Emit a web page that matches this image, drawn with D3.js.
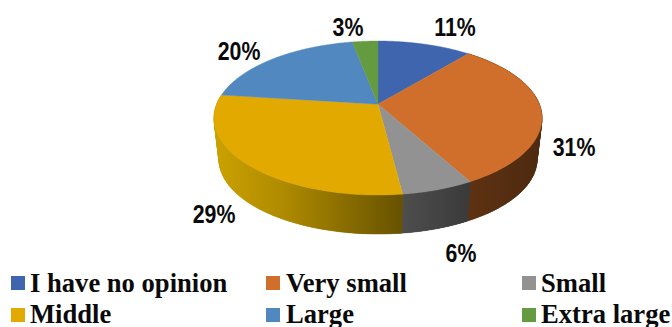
<!DOCTYPE html>
<html><head><meta charset="utf-8">
<script src="https://cdn.jsdelivr.net/npm/d3@7"></script>
<style>html,body{margin:0;padding:0;background:#fff}svg{display:block}</style>
</head><body><svg id="c" width="672" height="327"></svg>
<script>
const categories = ["I have no opinion","Very small","Small","Middle","Large","Extra large"];
const values = [11,31,6,29,20,3];
const colors = ["#3e65ae","#d06e2b","#929292","#e2a900","#5088bf","#649b40"];

const svg = d3.select("#c");
const defs = svg.append("defs");
const K = 0.18;                     // perspective strength
const topE = {cx:378, cy:118, rx:164, ry:77};
const botE = {cx:378, cy:159.5, rx:159, ry:74.5};
const project = (phi, e) => {
  const s = Math.sin(phi), c = Math.cos(phi), w = 1 + K*c;
  return [e.cx + e.rx*s*Math.sqrt(1-K*K)/w, e.cy - e.ry*(c+K)/w];
};
const apex = [topE.cx, topE.cy - topE.ry*K];
const pie = d3.pie().sort(null).value(d=>d)(values);
const samples = a => d3.range(0,97).map(i => a.startAngle + (a.endAngle-a.startAngle)*i/96);
const line = d3.line();

const sideFill = [
  null,
  {x1:468,x2:538,stops:["#5e3212","#4e2a10"]},
  {x1:402,x2:470,stops:["#4e4e4e","#3a3a3a"]},
  {x1:219,x2:402,stops:["#c9a000","#b08c00","#8c6f00","#675200"]},
  null,null
];
sideFill.forEach((g,i)=>{
  if(!g) return;
  const lg = defs.append("linearGradient").attr("id","side"+i).attr("gradientUnits","userSpaceOnUse")
    .attr("x1",g.x1).attr("x2",g.x2).attr("y1",0).attr("y2",0);
  g.stops.forEach((c,j)=>lg.append("stop").attr("offset",j/(g.stops.length-1)).attr("stop-color",c));
});

// sides: quads reach the silhouette, one polygon on top hides their seams
pie.forEach((a,i)=>{
  if(!sideFill[i]) return;
  const ph = samples(a);
  const g = svg.append("g").attr("fill",`url(#side${i})`);
  d3.pairs(ph).forEach(([p,q])=>{
    g.append("path").attr("d",line([project(p,topE),project(q,topE),project(q,botE),project(p,botE)])+"Z")
      .attr("stroke",`url(#side${i})`).attr("stroke-width",0.5);
  });
  const pts = ph.map(p=>project(p,topE)).concat(ph.slice().reverse().map(p=>project(p,botE)));
  g.append("path").attr("d",line(pts)+"Z");
});
// top face
pie.forEach((a,i)=>{
  const pts = [apex].concat(samples(a).map(p=>project(p,topE)));
  svg.append("path").attr("d",line(pts)+"Z").attr("fill",colors[i]).attr("stroke",colors[i]).attr("stroke-width",0.4);
});

// data labels (centre x, baseline y)
const labelAnchor = [[455,36],[574,156],[461,262],[214,223],[239,60],[348,36]];
values.forEach((v,i)=>{
  svg.append("text").attr("transform",`translate(${labelAnchor[i]}) scale(0.82,1)`)
    .attr("text-anchor","middle")
    .attr("font-family","'Liberation Sans',sans-serif")
    .attr("font-weight","bold").attr("font-size",26).attr("fill","#0a0a0a").text(v+"%");
});

// legend
const colX = [11,266,522], rowY = [276,308], textX = [30,286,541], baseY = [292,323];
categories.forEach((c,i)=>{
  const col = i%3, row = Math.floor(i/3);
  svg.append("rect").attr("x",colX[col]).attr("y",rowY[row]).attr("width",14).attr("height",14).attr("fill",colors[i]);
  svg.append("text").attr("x",textX[col]).attr("y",baseY[row])
    .attr("font-family","'Liberation Serif',serif").attr("font-weight","bold")
    .attr("font-size",26.6).attr("fill","#0a0a0a").text(c);
});
</script></body></html>
